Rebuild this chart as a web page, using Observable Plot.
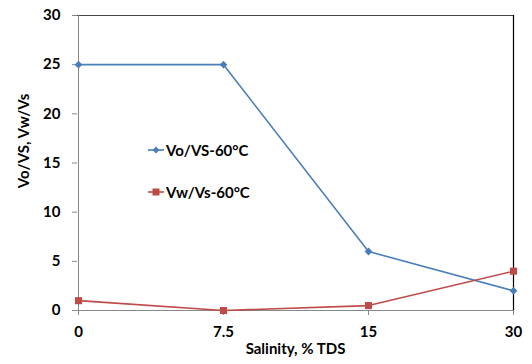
<!DOCTYPE html>
<html><head><meta charset="utf-8">
<script src="https://cdn.jsdelivr.net/npm/d3@7"></script>
<script src="https://cdn.jsdelivr.net/npm/@observablehq/plot@0.6"></script>
<style>
body{margin:0;background:#fff;font-family:Lato,"Open Sans",sans-serif;}
#wrap{position:relative;width:532px;height:364px;}
#legend{position:absolute;left:148px;top:139px;font:bold 15px Lato,"Open Sans",sans-serif;color:#000;}
.item{display:flex;align-items:center;height:22px;}
.item svg{margin-right:2px;}
</style></head>
<body><div id="wrap"><div id="legend"></div></div>
<script>
const categories = ["0","7.5","15","30"];
const seriesNames = ["Vo/VS-60°C","Vw/Vs-60°C"];
const voValues = [25,25,6,2];
const vwValues = [1,0,0.5,4];
const yTicks = [0,5,10,15,20,25,30];
const colors = ["#4a7ebb","#be4b48"];

const data = [];
categories.forEach((c,i)=>{
  data.push({x:c,y:voValues[i],s:seriesNames[0]});
  data.push({x:c,y:vwValues[i],s:seriesNames[1]});
});
const vo = data.filter(d=>d.s===seriesNames[0]);
const vw = data.filter(d=>d.s===seriesNames[1]);

const chart = Plot.plot({
  width:532,height:364,
  marginLeft:77,marginRight:19,marginTop:15,marginBottom:54,
  style:{fontFamily:"Lato, 'Open Sans', sans-serif",fontSize:"15px",fontWeight:"bold",color:"#000",background:"#fff"},
  x:{type:"point",domain:categories,padding:0,label:null},
  y:{domain:[0,30],label:null},
  marks:[
    Plot.ruleY([30],{stroke:"#444",strokeWidth:1}),
    Plot.ruleX([categories[3]],{stroke:"#000",strokeWidth:1.2}),
    Plot.ruleX([categories[0]],{stroke:"#888",strokeWidth:1}),
    Plot.ruleY([0],{stroke:"#888",strokeWidth:1.2}),
    Plot.axisY({ticks:yTicks,tickSize:5,tickPadding:12,stroke:"#888",fontSize:15,fontWeight:"bold",label:null}),
    Plot.axisX({tickSize:5,tickPadding:11,stroke:"#888",fontSize:15,fontWeight:"bold",label:null}),
    Plot.text(["Salinity, % TDS"],{frameAnchor:"bottom",dy:43,fontSize:15,fontWeight:"bold"}),
    Plot.text(["Vo/VS, Vw/Vs"],{frameAnchor:"left",textAnchor:"middle",dx:-53,dy:-22,rotate:-90,fontSize:15,fontWeight:"bold"}),
    Plot.line(vo,{x:"x",y:"y",stroke:colors[0],strokeWidth:1.6}),
    Plot.line(vw,{x:"x",y:"y",stroke:colors[1],strokeWidth:1.6}),
    Plot.dot(vo,{x:"x",y:"y",symbol:"diamond2",r:3.5,fill:colors[0],stroke:"none"}),
    Plot.dot(vw,{x:"x",y:"y",symbol:"square",r:4,fill:colors[1],stroke:"none"})
  ]
});
document.getElementById("wrap").prepend(chart);

const leg = document.getElementById("legend");
const shapes = [
  '<path d="M6.5,2.5 L10,6 L6.5,9.5 L3,6 Z" />',
  '<rect x="3" y="2.5" width="7" height="7" />'
];
seriesNames.forEach((n,i)=>{
  const div=document.createElement("div");
  div.className="item";
  div.style.marginBottom = i===0 ? "20px" : "0";
  div.innerHTML = `<svg width="16" height="12"><line x1="0" x2="16" y1="6" y2="6" stroke="${colors[i]}" stroke-width="1.6"/><g fill="${colors[i]}" transform="translate(1.5,0)">${shapes[i]}</g></svg><span>${n}</span>`;
  leg.appendChild(div);
});
</script></body></html>
